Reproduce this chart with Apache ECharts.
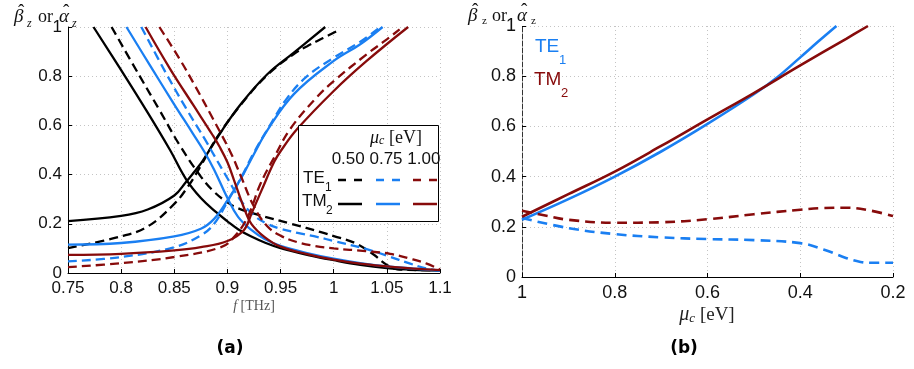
<!DOCTYPE html>
<html><head><meta charset="utf-8">
<script src="https://cdn.jsdelivr.net/npm/echarts@6/dist/echarts.min.js"></script>
<style>html,body{margin:0;padding:0;background:#fff}#c{width:914px;height:369px}</style>
</head><body><div id="c"></div>
<script>
// ---------- Panel (a): frequency sweep, [f (THz), value] ----------
// mu_c = 0.50 eV (black)
const tm2Beta050 = [[0.75,0.211],[0.8,0.232],[0.825,0.258],[0.85,0.315],[0.861,0.37],[0.875,0.445],[0.881,0.485],[0.895,0.58],[0.9125,0.686],[0.9375,0.808],[0.9625,0.896],[0.992,1.0]];
const te1Beta050 = [[0.75,0.101],[0.8,0.149],[0.825,0.189],[0.85,0.281],[0.8625,0.349],[0.875,0.436],[0.89,0.55],[0.9125,0.683],[0.9375,0.805],[0.9625,0.89],[0.975,0.922],[0.99,0.955],[1.006,0.99]];
const tm2Alpha050 = [[0.774,1.0],[0.8,0.825],[0.825,0.652],[0.846,0.5],[0.861,0.382],[0.875,0.305],[0.89,0.245],[0.9,0.21],[0.91,0.178],[0.9225,0.148],[0.935,0.124],[0.95,0.101],[0.976,0.073],[1.0,0.052],[1.025,0.033],[1.05,0.02],[1.075,0.013],[1.1,0.01]];
const te1Alpha050 = [[0.791,1.0],[0.8175,0.8],[0.836,0.663],[0.855,0.52],[0.875,0.392],[0.8875,0.33],[0.9,0.287],[0.91,0.263],[0.93,0.235],[0.96,0.2],[0.988,0.166],[1.0,0.15],[1.02,0.122],[1.0375,0.075],[1.05,0.033],[1.06,0.015],[1.08,0.012],[1.1,0.011]];
// mu_c = 0.75 eV (blue)
const tm2Beta075 = [[0.75,0.115],[0.8,0.122],[0.85,0.149],[0.875,0.18],[0.8875,0.22],[0.9,0.295],[0.9125,0.382],[0.925,0.484],[0.9375,0.58],[0.9625,0.727],[1.0,0.862],[1.025,0.93],[1.046,1.0]];
const te1Beta075 = [[0.75,0.047],[0.8,0.065],[0.85,0.105],[0.875,0.153],[0.8875,0.2],[0.9,0.29],[0.9125,0.385],[0.925,0.49],[0.94,0.6],[0.956,0.71],[0.975,0.8],[1.0,0.875],[1.025,0.94],[1.044,1.0]];
const tm2Alpha075 = [[0.805,1.0],[0.827,0.845],[0.849,0.692],[0.8675,0.567],[0.878,0.495],[0.8875,0.42],[0.9,0.305],[0.91,0.228],[0.9225,0.175],[0.935,0.138],[0.95,0.11],[0.976,0.08],[1.0,0.058],[1.025,0.04],[1.05,0.027],[1.075,0.018],[1.1,0.01]];
const te1Alpha075 = [[0.819,1.0],[0.8425,0.81],[0.861,0.67],[0.88,0.535],[0.8875,0.478],[0.9,0.385],[0.9125,0.295],[0.925,0.234],[0.9375,0.2],[0.95,0.18],[0.966,0.163],[0.985,0.146],[1.0,0.13],[1.031,0.097],[1.053,0.066],[1.072,0.038],[1.0875,0.018],[1.1,0.01]];
// mu_c = 1.00 eV (dark red)
const tm2Beta100 = [[0.75,0.074],[0.8,0.078],[0.85,0.092],[0.875,0.105],[0.9,0.13],[0.9156,0.175],[0.9225,0.24],[0.932,0.335],[0.944,0.452],[0.95,0.495],[0.9656,0.585],[1.0,0.74],[1.031,0.862],[1.07,1.0]];
const te1Beta100 = [[0.75,0.024],[0.8,0.04],[0.85,0.065],[0.894,0.105],[0.9062,0.146],[0.919,0.227],[0.931,0.362],[0.944,0.47],[0.959,0.585],[0.984,0.714],[1.0,0.78],[1.031,0.889],[1.05,0.95],[1.062,0.99]];
const tm2Alpha100 = [[0.823,1.0],[0.846,0.83],[0.8675,0.685],[0.886,0.561],[0.8925,0.514],[0.9,0.45],[0.906,0.38],[0.916,0.26],[0.9225,0.2],[0.935,0.146],[0.95,0.107],[0.976,0.076],[1.0,0.054],[1.025,0.038],[1.05,0.027],[1.075,0.018],[1.1,0.012]];
const te1Alpha100 = [[0.836,1.0],[0.855,0.87],[0.87,0.757],[0.886,0.63],[0.903,0.49],[0.9125,0.395],[0.925,0.27],[0.9375,0.19],[0.95,0.152],[0.966,0.125],[0.982,0.11],[1.0,0.1],[1.03,0.089],[1.053,0.078],[1.072,0.058],[1.0875,0.038],[1.1,0.014]];

// ---------- Panel (b): chemical potential sweep, [mu_c (eV), value] ----------
const te1BetaMu = [[1.0,0.228],[0.9,0.31],[0.8,0.40],[0.7,0.50],[0.6,0.61],[0.5,0.728],[0.45,0.795],[0.4,0.875],[0.36,0.94],[0.322,1.0]];
const tm2BetaMu = [[1.0,0.24],[0.9,0.33],[0.8,0.42],[0.7,0.522],[0.6,0.628],[0.5,0.733],[0.4,0.843],[0.3,0.95],[0.254,1.0]];
const te1AlphaMu = [[1.0,0.235],[0.9,0.195],[0.8,0.171],[0.7,0.158],[0.6,0.151],[0.5,0.147],[0.4,0.135],[0.35,0.11],[0.3,0.075],[0.27,0.06],[0.25,0.057],[0.2,0.057]];
const tm2AlphaMu = [[1.0,0.264],[0.95,0.245],[0.9,0.228],[0.8,0.216],[0.7,0.218],[0.6,0.23],[0.5,0.25],[0.4,0.268],[0.35,0.275],[0.3,0.276],[0.25,0.265],[0.2,0.243]];

const muLabels = ['0.50','0.75','1.00'];
const modeNames = ['TE', 'TM'];
const modeSubs = ['1', '2'];

const BLACK = '#000000', BLUE = '#1a7ff2', RED = '#870b0b';
const SANS = 'Liberation Sans, Arial, sans-serif';
const SERIF = 'Liberation Serif, DejaVu Serif, serif';

function line(data, color, dashed, g, w, dash) {
  return {
    type: 'line', data: data, xAxisIndex: g, yAxisIndex: g,
    showSymbol: false, symbol: 'none', smooth: 0.4,
    lineStyle: { color: color, width: w, type: dashed ? dash : 'solid' },
    silent: true, animation: false
  };
}
const dA = [9, 5], dB = [10, 6];
const wA = 2.3, wB = 2.6;
const series = [
  line(tm2Beta050, BLACK, false, 0, wA, dA), line(te1Beta050, BLACK, true, 0, wA, dA),
  line(tm2Alpha050, BLACK, false, 0, wA, dA), line(te1Alpha050, BLACK, true, 0, wA, dA),
  line(tm2Beta075, BLUE, false, 0, wA, dA), line(te1Beta075, BLUE, true, 0, wA, dA),
  line(tm2Alpha075, BLUE, false, 0, wA, dA), line(te1Alpha075, BLUE, true, 0, wA, dA),
  line(tm2Beta100, RED, false, 0, wA, dA), line(te1Beta100, RED, true, 0, wA, dA),
  line(tm2Alpha100, RED, false, 0, wA, dA), line(te1Alpha100, RED, true, 0, wA, dA),
  line(te1BetaMu, BLUE, false, 1, wB, dB), line(te1AlphaMu, BLUE, true, 1, wB, dB),
  line(tm2BetaMu, RED, false, 1, wB, dB), line(tm2AlphaMu, RED, true, 1, wB, dB)
];

const gridLine = { show: true, lineStyle: { color: '#c4c4c4', type: [1, 3], width: 1 } };
function xAx(g, min, max, interval, inverse, fs) {
  return {
    gridIndex: g, type: 'value', min: min, max: max, interval: interval, inverse: inverse,
    axisLine: { show: true, onZero: false, lineStyle: { color: '#000', width: 1 } },
    axisTick: { show: true, inside: true, length: 4, lineStyle: { color: '#000' } },
    axisLabel: { color: '#111', fontSize: fs, fontFamily: SANS, margin: 7, showMinLabel: true, showMaxLabel: true },
    splitLine: gridLine
  };
}
function yAx(g, fs, dashedAxis) {
  return {
    gridIndex: g, type: 'value', min: 0, max: 1, interval: 0.2,
    axisLine: { show: true, onZero: false, lineStyle: { color: dashedAxis ? '#333' : '#000', width: 1, type: dashedAxis ? [5, 2] : 'solid' } },
    axisTick: { show: true, inside: true, length: 4, lineStyle: { color: '#000' } },
    axisLabel: { color: '#111', fontSize: fs, fontFamily: SANS, margin: 6 },
    splitLine: gridLine
  };
}

function T(text, x, y, font, opts) {
  return { type: 'text', z: 110, style: Object.assign({ text: text, x: x, y: y, font: font, fill: '#111', textAlign: 'left', textVerticalAlign: 'middle' }, opts || {}) };
}
function L(x1, y1, x2, y2, color, dash) {
  return { type: 'line', z: 110, shape: { x1: x1, y1: y1, x2: x2, y2: y2 }, style: { stroke: color, lineWidth: 2.5, lineDash: dash || null } };
}
// hatted symbol: letter + separate circumflex above it
function hatSym(ch, x, y, size) {
  return [
    T(ch, x, y, 'italic ' + size + 'px ' + SERIF),
    T('\u02C6', x + 4, y - 5, size + 'px ' + SERIF)
  ];
}

const legendCols = [338, 376, 413];
const colColors = [BLACK, BLUE, RED];
const graphic = [].concat(
  // y title (a)
  hatSym('\u03B2', 14, 17, 19),
  [T('z', 27, 24, 'italic 12px ' + SERIF),
   T('or', 38, 17, '18px ' + SERIF)],
  hatSym('\u03B1', 59, 17, 19),
  [T('z', 72, 24, 'italic 12px ' + SERIF)],
  // y title (b)
  hatSym('\u03B2', 468, 16, 19),
  [T('z', 482, 21, '11px ' + SERIF),
   T('or', 492, 16, '18px ' + SERIF)],
  hatSym('\u03B1', 517, 16, 19),
  [T('z', 531, 21, '11px ' + SERIF)],
  [
  // x titles
  { type: 'text', z: 110, style: { text: '{i|f} [THz]', x: 254, y: 306, font: '14px ' + SERIF, fill: '#555', textAlign: 'center', textVerticalAlign: 'middle',
      rich: { i: { fontStyle: 'italic', fontFamily: SERIF, fontSize: 14, fill: '#555' } } } },
  { type: 'text', z: 110, style: { text: '{i|\u03BC}{c|c} [eV]', x: 707, y: 315, font: '19px ' + SERIF, fill: '#222', textAlign: 'center', textVerticalAlign: 'middle',
      rich: { i: { fontStyle: 'italic', fontFamily: SERIF, fontSize: 20, fill: '#222' }, c: { fontStyle: 'italic', fontFamily: SERIF, fontSize: 13, fill: '#222', verticalAlign: 'bottom', padding: [6, 0, 0, 0] } } } },
  // captions
  T('(a)', 230, 349, 'bold 17px DejaVu Sans', { textAlign: 'center', fill: '#000' }),
  T('(b)', 684, 349, 'bold 17px DejaVu Sans', { textAlign: 'center', fill: '#000' }),
  // legend box (a)
  { type: 'rect', z: 105, shape: { x: 298.5, y: 125.5, width: 140, height: 96 }, style: { fill: '#fff', stroke: '#000', lineWidth: 1 } },
  { type: 'text', z: 110, style: { text: '{i|\u03BC}{c|c} [eV]', x: 396, y: 138, font: '18px ' + SERIF, fill: '#111', textAlign: 'center', textVerticalAlign: 'middle',
      rich: { i: { fontStyle: 'italic', fontFamily: SERIF, fontSize: 18, fill: '#111' }, c: { fontStyle: 'italic', fontFamily: SERIF, fontSize: 12, fill: '#111', verticalAlign: 'bottom', padding: [5, 0, 0, 0] } } } },
  T(muLabels.join(' '), 386, 159, '17px ' + SANS, { textAlign: 'center' }),
  T(modeNames[0], 303, 178, '17px ' + SANS),
  T(modeSubs[0], 325, 188, '12px ' + SANS),
  T(modeNames[1], 302, 201, '17px ' + SANS),
  T(modeSubs[1], 326, 211, '12px ' + SANS),
  // legend (b)
  T(modeNames[0], 535, 47, '19px ' + SANS, { fill: BLUE }),
  T(modeSubs[0], 559, 60, '13px ' + SANS, { fill: BLUE }),
  T(modeNames[1], 534, 80, '19px ' + SANS, { fill: RED }),
  T(modeSubs[1], 561, 93, '13px ' + SANS, { fill: RED })
]);
for (let i = 0; i < 3; i++) {
  graphic.push(L(legendCols[i], 180, legendCols[i] + 24, 180, colColors[i], [8, 8]));
  graphic.push(L(legendCols[i], 204, legendCols[i] + 24, 204, colColors[i]));
}

const chart = echarts.init(document.getElementById('c'), null, { renderer: 'canvas' });
chart.setOption({
  animation: false,
  backgroundColor: '#fff',
  grid: [
    { left: 68, top: 27, width: 372, height: 246 },
    { left: 522, top: 26, width: 371, height: 251 }
  ],
  xAxis: [xAx(0, 0.75, 1.1, 0.05, false, 17), xAx(1, 0.2, 1, 0.2, true, 18)],
  yAxis: [yAx(0, 17, false), yAx(1, 18, true)],
  series: series,
  graphic: graphic
});
</script></body></html>
